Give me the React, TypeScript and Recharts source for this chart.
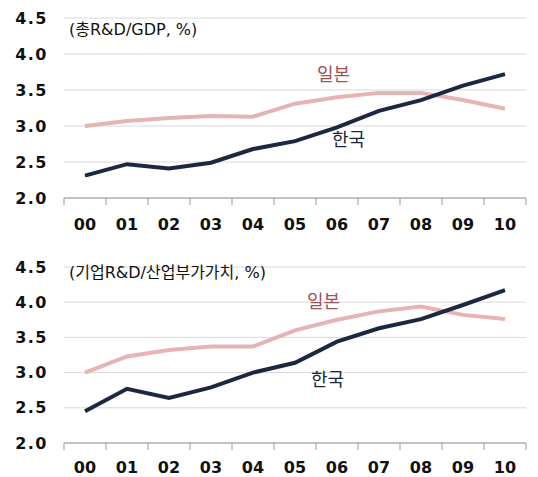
import { CartesianGrid, Line, LineChart, XAxis, YAxis } from "recharts";

const years = ["00", "01", "02", "03", "04", "05", "06", "07", "08", "09", "10"];
const yTicks = [2.0, 2.5, 3.0, 3.5, 4.0, 4.5];

// 총R&D/GDP
const korTotal = [2.31, 2.47, 2.41, 2.49, 2.68, 2.79, 2.98, 3.21, 3.36, 3.56, 3.72];
const jpnTotal = [3.0, 3.07, 3.11, 3.14, 3.13, 3.31, 3.4, 3.46, 3.46, 3.36, 3.24];

// 기업R&D/산업부가가치
const korBiz = [2.45, 2.77, 2.64, 2.79, 3.0, 3.14, 3.44, 3.63, 3.76, 3.96, 4.17];
const jpnBiz = [3.0, 3.23, 3.32, 3.37, 3.37, 3.6, 3.75, 3.87, 3.94, 3.82, 3.76];

const bounds = years.map((_, i) => i - 0.5).concat([years.length - 0.5]);
const centers = years.map((_, i) => i);

const font = "'DejaVu Sans', 'Noto Sans CJK KR', sans-serif";
const tickStyle = { fill: "#111", fontSize: 16, fontWeight: 700, fontFamily: font };

function build(kor: number[], jpn: number[]) {
  return years.map((y, i) => ({ i, year: y, kor: kor[i], jpn: jpn[i] }));
}

function Panel({
  data,
  height,
  top,
  labelHeight,
  labelMargin
}: {
  data: { i: number; year: string; kor: number; jpn: number }[];
  height: number;
  top: number;
  labelHeight: number;
  labelMargin: number;
}) {
  return (
    <LineChart width={538} height={height} data={data} margin={{ top, right: 12, left: 0, bottom: 0 }}>
      <CartesianGrid vertical={false} stroke="#d9d9d9" xAxisId="b" />
      <XAxis
        xAxisId="a"
        type="number"
        dataKey="i"
        domain={[-0.5, 10.5]}
        ticks={bounds}
        tick={() => <g />}
        tickSize={7}
        height={8}
        axisLine={{ stroke: "#999" }}
        tickLine={{ stroke: "#999" }}
      />
      <XAxis
        xAxisId="b"
        type="number"
        dataKey="i"
        domain={[-0.5, 10.5]}
        ticks={centers}
        tickFormatter={(v) => years[v]}
        axisLine={false}
        tickLine={false}
        tickSize={0}
        tickMargin={labelMargin}
        height={labelHeight}
        tick={tickStyle}
        interval={0}
      />
      <YAxis
        domain={[2, 4.5]}
        ticks={yTicks}
        tickFormatter={(v) => v.toFixed(1)}
        axisLine={false}
        tickLine={false}
        tickSize={0}
        tickMargin={16}
        width={64}
        tick={{ ...tickStyle, letterSpacing: 1.5 }}
        interval={0}
      />
      <Line xAxisId="b" dataKey="jpn" stroke="#e6b4b2" strokeWidth={4} dot={false} isAnimationActive={false} />
      <Line xAxisId="b" dataKey="kor" stroke="#1b2940" strokeWidth={4} dot={false} isAnimationActive={false} />
    </LineChart>
  );
}

const textBase: React.CSSProperties = { position: "absolute", whiteSpace: "nowrap", lineHeight: 1, fontFamily: font };

export default function App() {
  return (
    <div style={{ position: "fixed", left: 0, top: 0, width: 538, height: 477, background: "#fff" }}>
      <div style={{ position: "absolute", left: 0, top: 0 }}>
        <Panel data={build(korTotal, jpnTotal)} height={240} top={18} labelHeight={34} labelMargin={13} />
      </div>
      <div style={{ position: "absolute", left: 0, top: 240 }}>
        <Panel data={build(korBiz, jpnBiz)} height={237} top={27} labelHeight={26} labelMargin={11} />
      </div>
      <div style={{ ...textBase, left: 69, top: 22, fontSize: 16, color: "#111" }}>(총R&amp;D/GDP, %)</div>
      <div style={{ ...textBase, left: 317, top: 66, fontSize: 18, color: "#a0525a" }}>일본</div>
      <div style={{ ...textBase, left: 332, top: 131, fontSize: 18, color: "#1b2940" }}>한국</div>
      <div style={{ ...textBase, left: 69, top: 265, fontSize: 16, color: "#111" }}>(기업R&amp;D/산업부가가치, %)</div>
      <div style={{ ...textBase, left: 307, top: 293, fontSize: 18, color: "#a0525a" }}>일본</div>
      <div style={{ ...textBase, left: 311, top: 371, fontSize: 18, color: "#1b2940" }}>한국</div>
    </div>
  );
}
